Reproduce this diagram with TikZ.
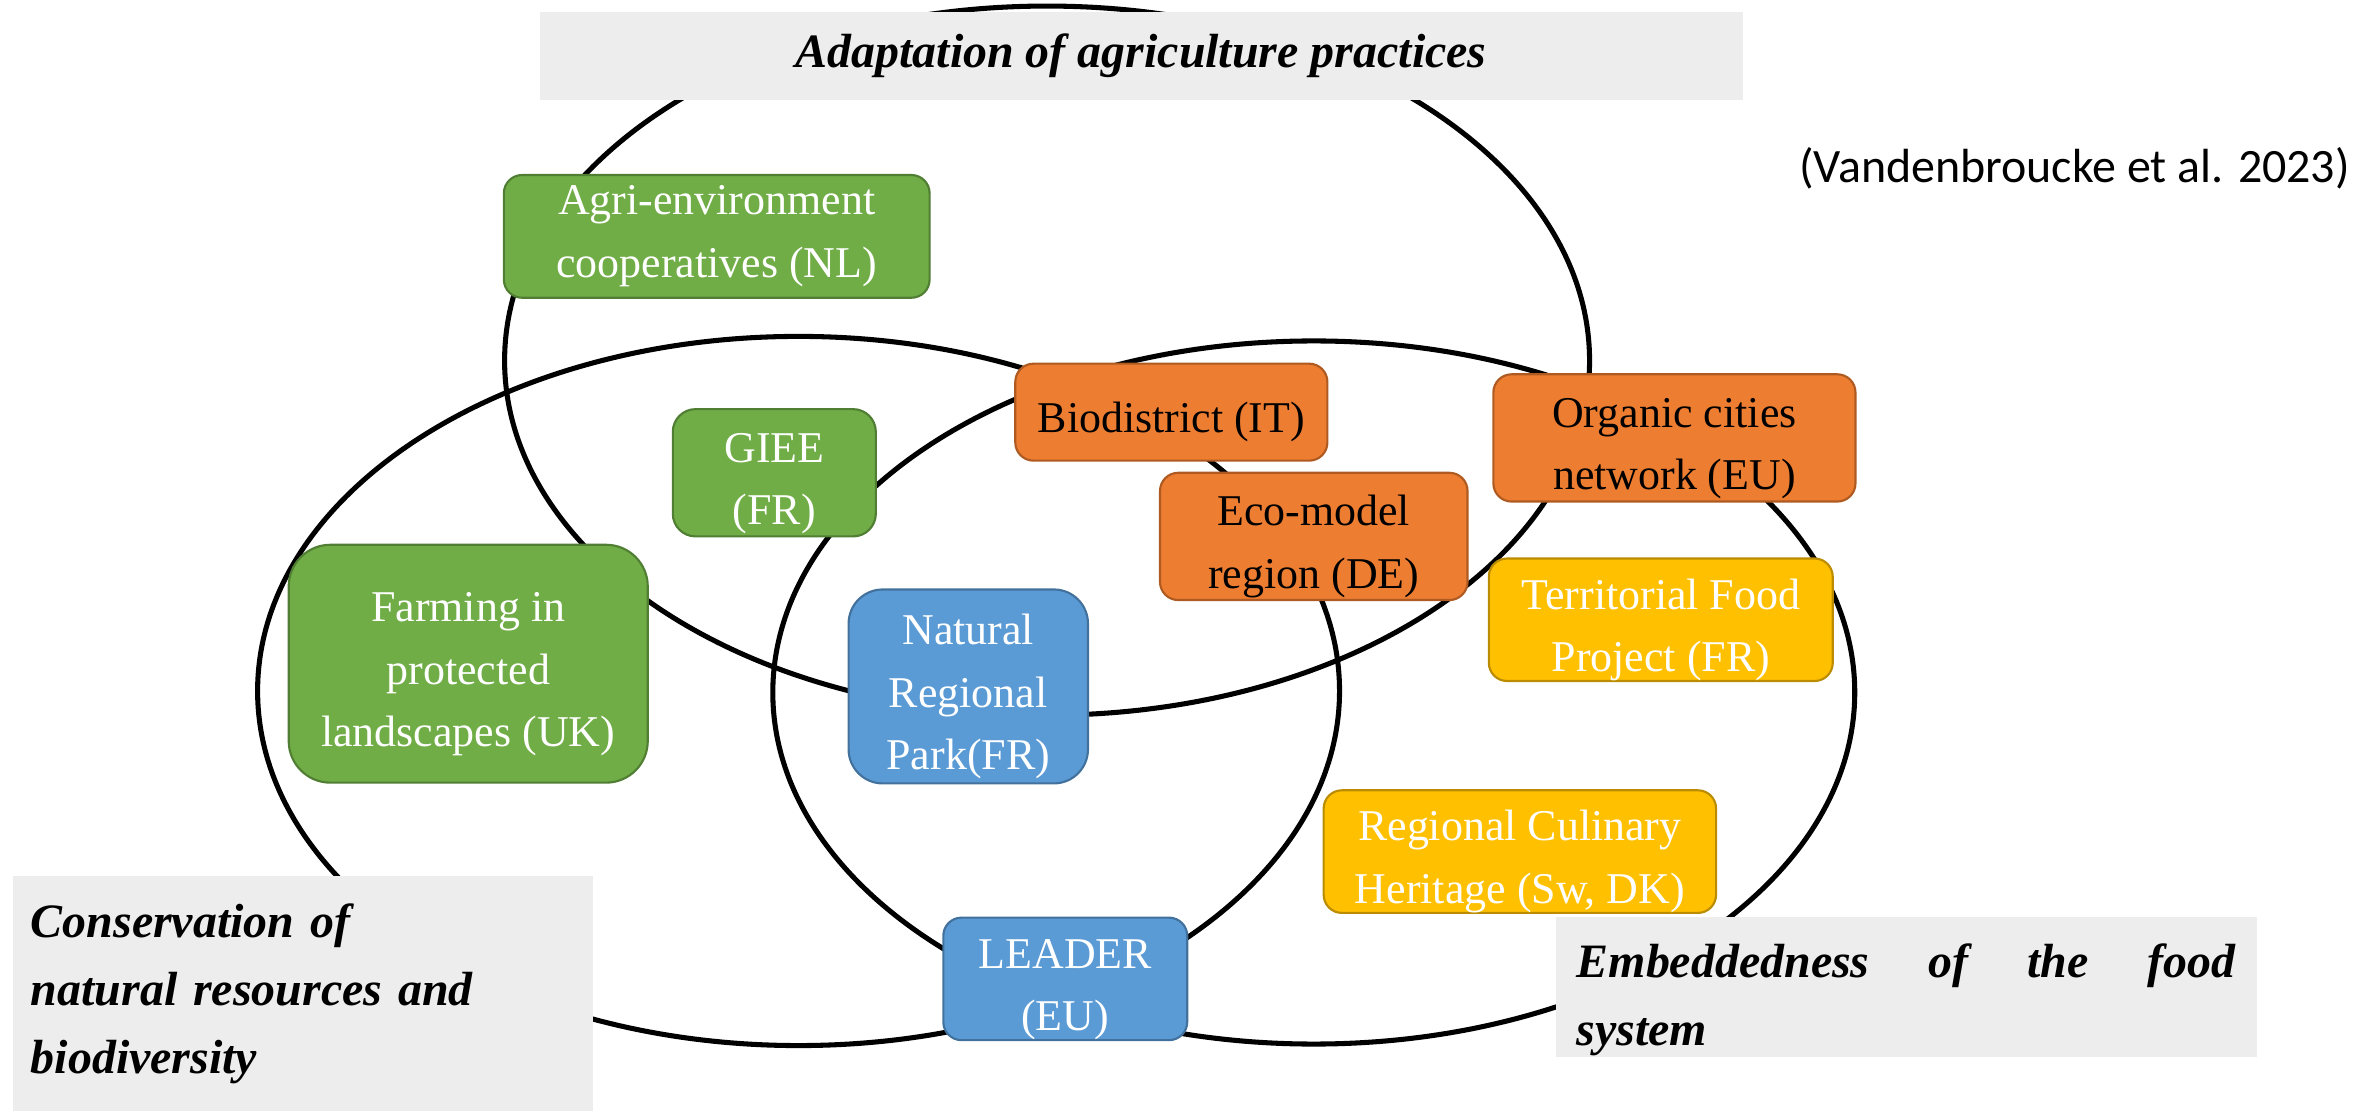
\documentclass[tikz,border=0pt]{standalone}
\usepackage{fontspec}
\setmainfont{Liberation Serif}
\newfontfamily\citefont{Carlito}
\usepackage{xcolor}
\definecolor{agrigreen}{HTML}{70AD47}
\definecolor{agrigreenline}{HTML}{507E32}
\definecolor{foodorange}{HTML}{ED7D31}
\definecolor{foodorangeline}{HTML}{AE5A21}
\definecolor{localyellow}{HTML}{FFC000}
\definecolor{localyellowline}{HTML}{BC8C00}
\definecolor{naturblue}{HTML}{5B9BD5}
\definecolor{naturblueline}{HTML}{41719C}
\definecolor{labelgray}{HTML}{EDEDED}
\newcommand\lift{\rule{0pt}{19pt}}

\begin{document}
\begin{tikzpicture}[x=0.02cm,y=-0.02cm,
			ring/.style={draw,line width=1.9pt},
			case/.style={rounded corners=0.24cm,line width=0.8pt,inner sep=0pt,align=center,
				font=\fontsize{16.5}{23.5}\selectfont},
			green case/.style={case,fill=agrigreen,draw=agrigreenline,text=white},
			orange case/.style={case,fill=foodorange,draw=foodorangeline,text=black},
			yellow case/.style={case,fill=localyellow,draw=localyellowline,text=white},
			blue case/.style={case,fill=naturblue,draw=naturblueline,text=white},
			label box/.style={fill=labelgray,inner sep=0pt,
				font=\fontsize{18}{25.5}\selectfont\bfseries\itshape}]
			\useasboundingbox (0,0) rectangle (1568,733);
			\draw[ring] (691,238) ellipse [x radius=358, y radius=234];
			\draw[ring] (527,456) ellipse [x radius=357, y radius=234];
			\draw[ring] (867,457) ellipse [x radius=357, y radius=232];
			\node[label box, minimum width=15.88cm, minimum height=1.16cm] (adapt) at (753,37) {Adaptation of agriculture practices};
			\node[label box, anchor=north west, minimum width=7.66cm, minimum height=3.1cm,
				inner xsep=0.24cm, text width=7.18cm, align=left] (conserv) at (8,578)
				{Conservation of\\natural resources and\\biodiversity};
			\node[label box, anchor=north, minimum width=9.26cm, minimum height=1.84cm,
				text width=8.7cm, align=justify] (embed) at (1258,605)
				{\rule{0pt}{0.79cm}Embeddedness of the food\linebreak system};
			\node[font=\citefont\fontsize{18}{22}\selectfont] (cite) at (1369,111) {(Vandenbroucke et al. 2023)};
			\node[green case, minimum width=5.62cm, minimum height=1.62cm] (agri) at (473,156) {Agri-environment\\cooperatives (NL)};
			\node[green case, rounded corners=0.3cm, minimum width=2.68cm, minimum height=1.68cm] (giee) at (511,312) {\lift GIEE\\(FR)};
			\node[green case, rounded corners=0.55cm, minimum width=4.74cm, minimum height=3.14cm] (farm) at (309,438) {\lift Farming in\\protected\\landscapes (UK)};
			\node[orange case, minimum width=4.12cm, minimum height=1.28cm] (bio) at (773,272) {\lift Biodistrict (IT)};
			\node[orange case, minimum width=4.06cm, minimum height=1.68cm] (eco) at (867,354) {\lift Eco-model\\region (DE)};
			\node[orange case, minimum width=4.78cm, minimum height=1.68cm] (org) at (1105,289) {\lift Organic cities\\network (EU)};
			\node[yellow case, minimum width=4.54cm, minimum height=1.52cm] (terr) at (1096,409) {\lift Territorial Food\\Project (FR)};
			\node[blue case, rounded corners=0.45cm, minimum width=3.16cm, minimum height=2.56cm] (park) at (639,453) {\lift Natural\\Regional\\Park(FR)};
			\node[yellow case, minimum width=5.18cm, minimum height=1.54cm] (cul) at (1003,562) {\lift Regional Culinary\\Heritage (Sw, DK)};
			\node[blue case, minimum width=3.22cm, minimum height=1.6cm] (leader) at (703,646) {\lift LEADER\\(EU)};
		\end{tikzpicture}
\end{document}
